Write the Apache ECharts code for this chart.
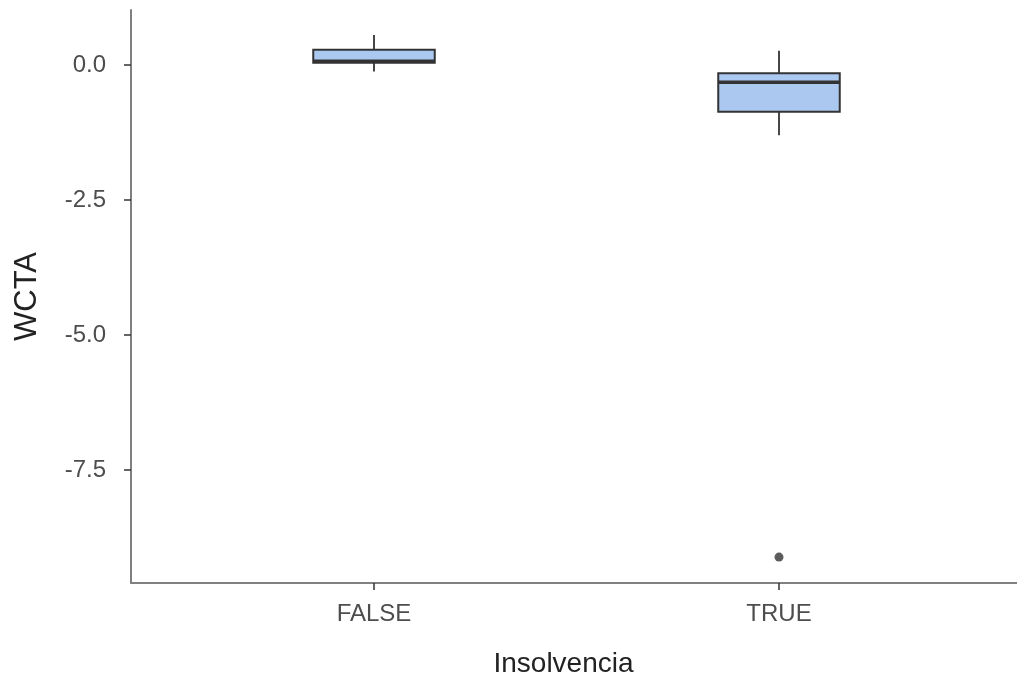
<!DOCTYPE html>
<html>
<head>
<meta charset="utf-8">
<script src="https://cdn.jsdelivr.net/npm/echarts@6/dist/echarts.min.js"></script>
<style>html,body{margin:0;padding:0;background:#fff}#c{width:1017px;height:682px}</style>
</head>
<body>
<div id="c"></div>
<script>
// Data
var categories = ['FALSE', 'TRUE'];
var whiskerLow  = [-0.12, -1.30];
var q1          = [0.04, -0.865];
var median      = [0.07, -0.32];
var q3          = [0.28, -0.154];
var whiskerHigh = [0.556, 0.265];
var outliers    = [[2, -9.11]];
var yTicks = [-7.5, -5.0, -2.5, 0.0];

var boxData = categories.map(function (c, i) {
  return [i + 1, whiskerLow[i], q1[i], median[i], q3[i], whiskerHigh[i]];
});

var chart = echarts.init(document.getElementById('c'));
var FONT = 'Liberation Sans';
chart.setOption({
  animation: false,
  backgroundColor: '#ffffff',
  grid: { left: 131, right: -5, top: 10, bottom: 99, outerBoundsMode: 'none', containLabel: false },
  xAxis: {
    type: 'value', min: 0.4, max: 2.6,
    name: 'Insolvencia', nameLocation: 'middle', nameGap: 67,
    nameTextStyle: { fontFamily: FONT, fontSize: 28, color: '#222', padding: [0, 26, 0, 0] },
    axisLine: { show: true, onZero: false, lineStyle: { color: '#808080', width: 2 } },
    axisTick: { show: true, customValues: [1, 2], length: 7, lineStyle: { color: '#333', width: 1.5 } },
    axisLabel: { customValues: [1, 2], margin: 19, fontFamily: FONT, fontSize: 24, color: '#4d4d4d',
      formatter: function (v) { return categories[Math.round(v) - 1] || ''; } },
    splitLine: { show: false }
  },
  yAxis: {
    type: 'value', min: -9.59, max: 1.018,
    name: 'WCTA', nameLocation: 'middle', nameGap: 88,
    nameTextStyle: { fontFamily: FONT, fontSize: 31, color: '#222' },
    axisLine: { show: true, onZero: false, lineStyle: { color: '#808080', width: 2 } },
    axisTick: { show: true, customValues: yTicks, length: 7, lineStyle: { color: '#333', width: 1.5 } },
    axisLabel: { customValues: yTicks, margin: 25, fontFamily: FONT, fontSize: 24, color: '#4d4d4d',
      formatter: function (v) { return v.toFixed(1); } },
    splitLine: { show: false }
  },
  series: [
    {
      type: 'custom',
      data: boxData,
      encode: { x: 0, y: [1, 2, 3, 4, 5] },
      renderItem: function (params, api) {
        var x = api.value(0);
        var unit = api.size([1, 0])[0];
        var half = unit * 0.3 / 2;
        var pLow = api.coord([x, api.value(1)]);
        var pQ1 = api.coord([x, api.value(2)]);
        var pMed = api.coord([x, api.value(3)]);
        var pQ3 = api.coord([x, api.value(4)]);
        var pHigh = api.coord([x, api.value(5)]);
        var stroke = '#333333';
        return {
          type: 'group',
          children: [
            { type: 'line', shape: { x1: pHigh[0], y1: pHigh[1], x2: pQ3[0], y2: pQ3[1] },
              style: { stroke: stroke, lineWidth: 1.8 } },
            { type: 'line', shape: { x1: pQ1[0], y1: pQ1[1], x2: pLow[0], y2: pLow[1] },
              style: { stroke: stroke, lineWidth: 1.8 } },
            { type: 'rect', shape: { x: pQ3[0] - half, y: pQ3[1], width: half * 2, height: pQ1[1] - pQ3[1] },
              style: { fill: '#abc8f1', stroke: stroke, lineWidth: 2 } },
            { type: 'line', shape: { x1: pMed[0] - half, y1: pMed[1], x2: pMed[0] + half, y2: pMed[1] },
              style: { stroke: stroke, lineWidth: 3.5 } }
          ]
        };
      }
    },
    {
      type: 'scatter',
      data: outliers,
      symbol: 'circle',
      symbolSize: 9,
      itemStyle: { color: '#333333' }
    }
  ]
});
</script>
</body>
</html>
